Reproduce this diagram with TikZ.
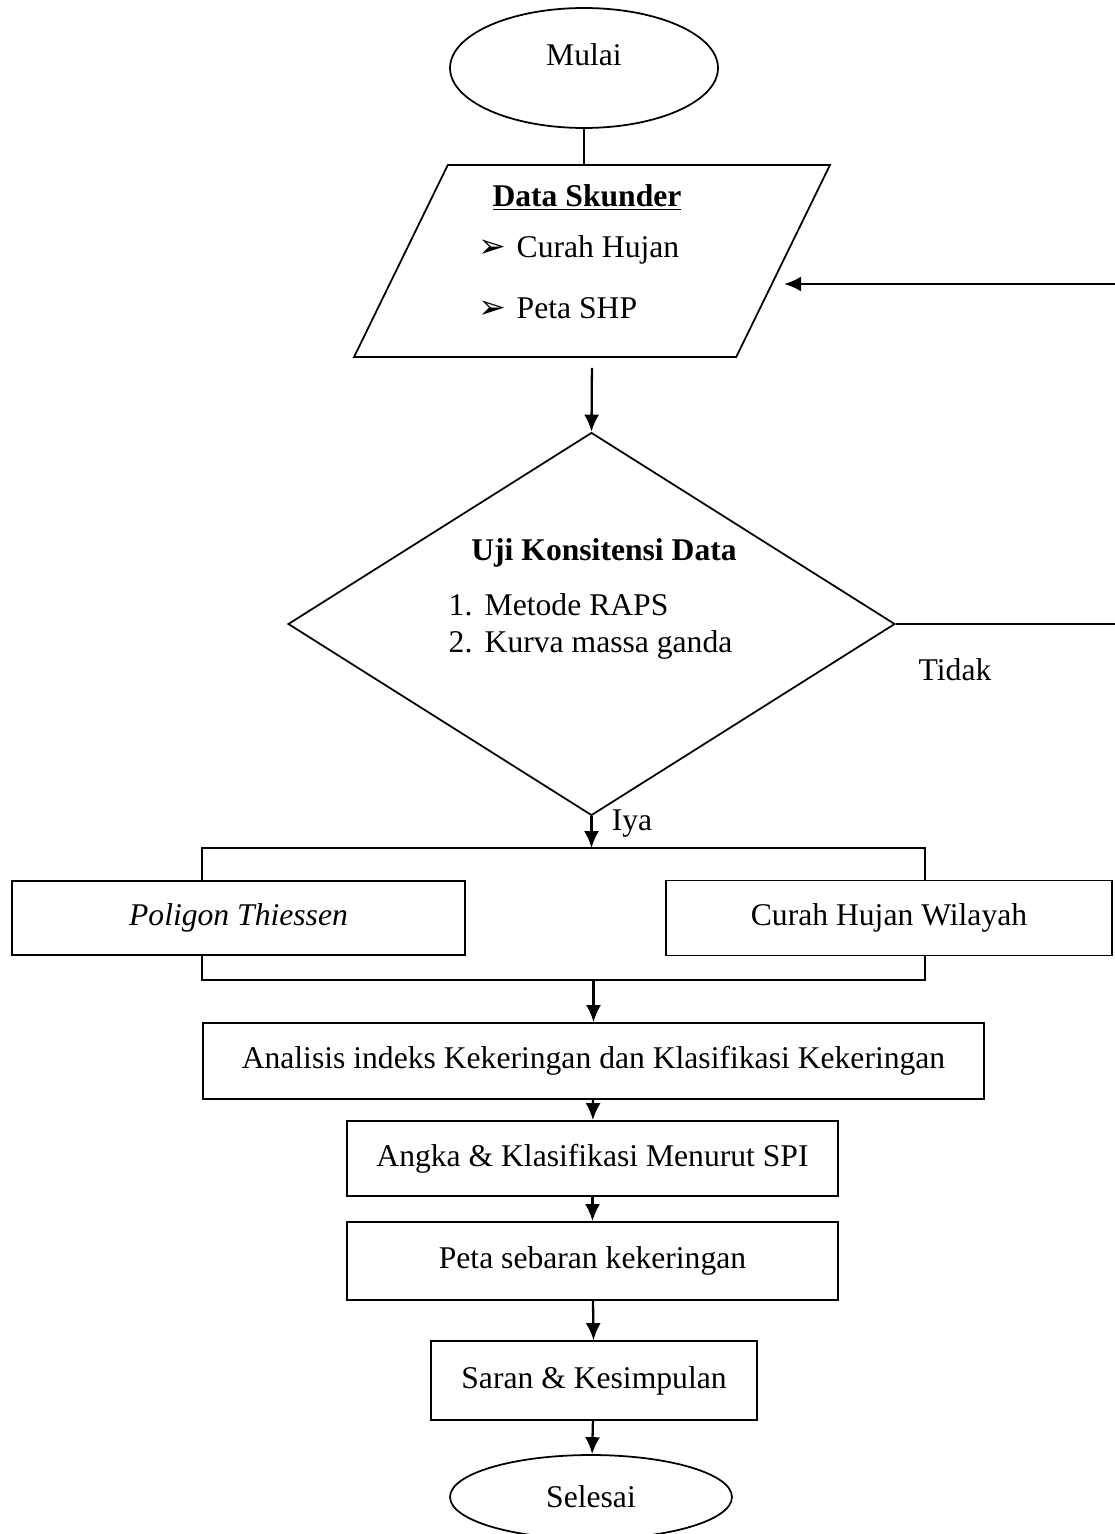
\documentclass[tikz,border=0pt]{standalone}
\usepackage{fontspec}
\setmainfont{Liberation Serif}
\newfontfamily\arrowfont[Scale=1.05]{DejaVu Sans}
\usetikzlibrary{shapes.geometric,arrows.meta,positioning}
\newcommand{\arrowitem}{\makebox[0.76cm][l]{\arrowfont\char"27A2}}

\begin{document}
\begin{tikzpicture}[x=0.02cm,y=-0.02cm,line width=1pt,font=\fontsize{18}{22}\selectfont]
\tikzstyle{terminal} = [draw, ellipse, inner sep=0]
\tikzstyle{io} = [draw, trapezium, trapezium left angle=72, trapezium right angle=108, trapezium stretches=true, minimum width=9.52cm, minimum height=3.84cm, inner sep=2pt]
\tikzstyle{decision} = [draw, diamond, minimum width=12.14cm, minimum height=7.66cm, inner sep=2pt]
\tikzstyle{box} = [draw, rectangle]
\tikzstyle{arr} = [-{Latex[length=0.34cm,width=0.3cm]}, line width=1.3pt]
\tikzstyle{head} = [font=\fontsize{18}{22}\selectfont\bfseries]
%
\useasboundingbox (0,0) rectangle (1115,1534);
%
\node[terminal, minimum width=5.36cm, minimum height=2.4cm, text height=0.45cm, text depth=0.55cm] (mulai) at (584,68) {Mulai};
\node[io] (data) at (592,261) {};
\node[head] (datatitle) at (587,197) {\underline{Data Skunder}};
\node[anchor=west] (item1) at (472,250) {\arrowitem Curah Hujan};
\node[anchor=west] (item2) at (472,308) {\arrowitem Peta SHP};
%
\node[decision] (cek) at (591.5,624) {};
\node[head] (cektitle) at (604,553) {Uji Konsitensi Data};
\node[anchor=west] (cek1) at (442,605) {\makebox[0.72cm][l]{1.}Metode RAPS};
\node[anchor=west] (cek2) at (442,645) {\makebox[0.72cm][l]{2.}Kurva massa ganda};
\node (tidak) at (955,670) {Tidak};
\node (iya) at (632,824) {Iya};
%
\coordinate (back) at (1115,284);
\coordinate (tidakend) at (1115,624);
\coordinate (brtl) at (202,848);
\coordinate (brtr) at (925,848);
\coordinate (brbl) at (202,980);
\coordinate (brbr) at (925,980);
%
\node[box, minimum width=9.06cm, minimum height=1.48cm] (thiessen) at (238.5,918) {\textit{Poligon Thiessen}};
\node[box, minimum width=8.92cm, minimum height=1.5cm] (wilayah) at (889,918) {Curah Hujan Wilayah};
\node[box, minimum width=15.62cm, minimum height=1.52cm] (analisis) at (593.5,1061) {Analisis indeks Kekeringan dan Klasifikasi Kekeringan};
\node[box, minimum width=9.82cm, minimum height=1.5cm] (angka) at (592.5,1158.5) {Angka \& Klasifikasi Menurut SPI};
\node[box, minimum width=9.82cm, minimum height=1.56cm] (peta) at (592.5,1261) {Peta sebaran kekeringan};
\node[box, minimum width=6.52cm, minimum height=1.58cm] (saran) at (594,1380.5) {Saran \& Kesimpulan};
\node[terminal, minimum width=5.64cm, minimum height=1.68cm] (selesai) at (591,1497) {Selesai};
%
\draw (mulai.south) -- (mulai.south |- data.north);
\draw[arr, shorten <=0.2cm] (data.south) -- (cek.north);
\draw (cek.east) -- (tidakend);
\draw[arr] (back) -- (data.east |- back);
\draw[arr] (cek.south) -- (cek.south |- brtl);
\draw (thiessen.north -| brtl) -- (brtl) -- (brtr) -- (wilayah.north -| brtr);
\draw (thiessen.south -| brbl) -- (brbl) -- (brbr) -- (wilayah.south -| brbr);
\draw[arr] (analisis.north |- brbl) -- (analisis.north);
\draw[arr] (analisis) -- (angka);
\draw[arr] (angka) -- (peta);
\draw[arr] (peta) -- (saran);
\draw[arr] (saran) -- (selesai);
\end{tikzpicture}
\end{document}
